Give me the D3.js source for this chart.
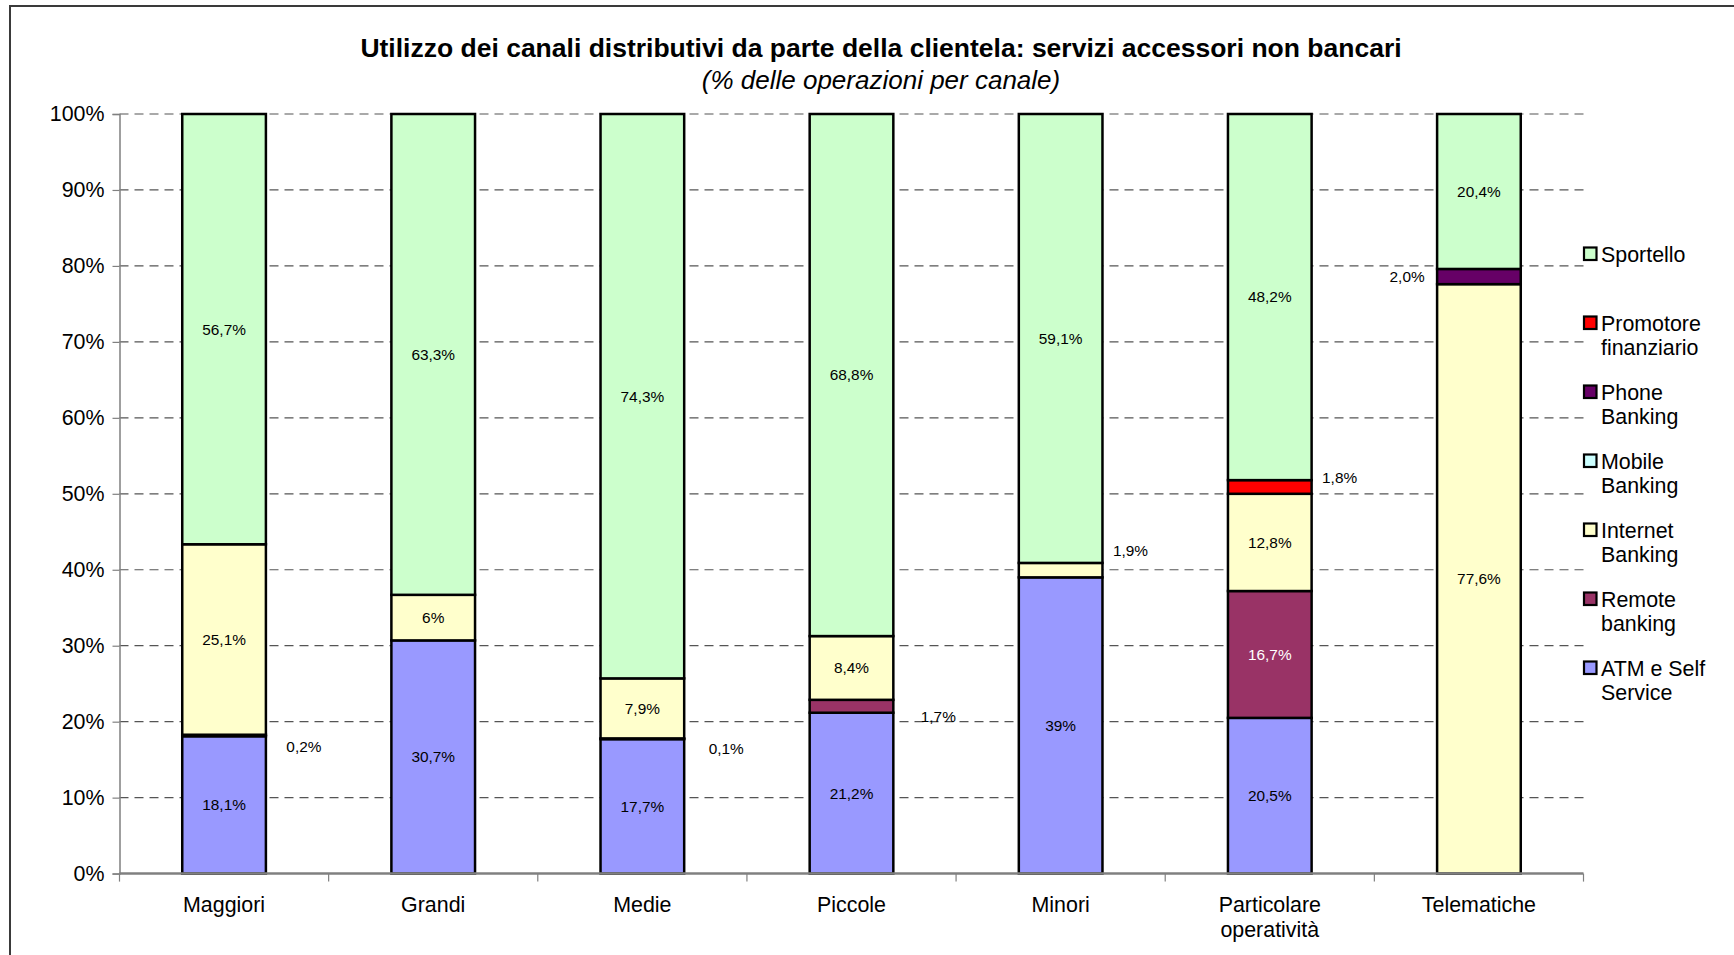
<!DOCTYPE html>
<html>
<head>
<meta charset="utf-8">
<script src="https://cdn.jsdelivr.net/npm/d3@7"></script>
<style>
  html, body { margin: 0; padding: 0; background: #fff; }
  svg { display: block; font-family: "Liberation Sans", Arial, sans-serif; }
</style>
</head>
<body>
<svg id="chart" width="1734" height="955"></svg>
<script>
// Bank groups (x categories) — second line of a label after "\n"
const categories = ["Maggiori", "Grandi", "Medie", "Piccole", "Minori", "Particolare\noperatività", "Telematiche"];

// Channels, stacked bottom to top
const seriesNames = ["ATM e Self Service", "Remote banking", "Internet Banking", "Mobile Banking", "Phone Banking", "Promotore finanziario", "Sportello"];
const legendLabels = [["ATM e Self", "Service"], ["Remote", "banking"], ["Internet", "Banking"], ["Mobile", "Banking"], ["Phone", "Banking"], ["Promotore", "finanziario"], ["Sportello"]];

// Share of operations per channel (%), one value per category
const atmSelfService   = [18.1, 30.7, 17.7, 21.2, 39.0, 20.5, 0];
const remoteBanking    = [0.2, 0, 0.1, 1.7, 0, 16.7, 0];
const internetBanking  = [25.1, 6.0, 7.9, 8.4, 1.9, 12.8, 77.6];
const mobileBanking    = [0, 0, 0, 0, 0, 0, 0];
const phoneBanking     = [0, 0, 0, 0, 0, 0, 2.0];
const promotore        = [0, 0, 0, 0, 0, 1.8, 0];
const sportello        = [56.7, 63.3, 74.3, 68.8, 59.1, 48.2, 20.4];

const yTickLabels = ["0%", "10%", "20%", "30%", "40%", "50%", "60%", "70%", "80%", "90%", "100%"];

const seriesValues = [atmSelfService, remoteBanking, internetBanking, mobileBanking, phoneBanking, promotore, sportello];
const colors = ["#9999FF", "#993366", "#FFFFCC", "#CCFFFF", "#660066", "#FF0000", "#CCFFCC"];

// Labels of thin segments are placed beside the bar
const besideLabels = [
  { cat: 0, series: 1, side: "right", dx: 38, dy: 11 },
  { cat: 2, series: 1, side: "right", dx: 42, dy: 10 },
  { cat: 3, series: 1, side: "right", dx: 45, dy: 10 },
  { cat: 4, series: 2, side: "right", dx: 28, dy: -20 },
  { cat: 5, series: 5, side: "right", dx: 28, dy: -9 },
  { cat: 6, series: 4, side: "left",  dx: -30, dy: 0 }
];

const svg = d3.select("#chart");
const margin = { left: 119.5, right: 1583.5, top: 114, bottom: 873.6 };
const baseFont = 21.4;

// Outer frame of the chart area
svg.append("rect")
  .attr("x", 10).attr("y", 6).attr("width", 1800).attr("height", 1000)
  .attr("fill", "none").attr("stroke", "#3a3a3a").attr("stroke-width", 2);

// Titles
svg.append("text").attr("x", 881).attr("y", 57).attr("text-anchor", "middle")
  .attr("font-size", 26.5).attr("font-weight", "bold").attr("fill", "#000")
  .text("Utilizzo dei canali distributivi da parte della clientela: servizi accessori non bancari");
svg.append("text").attr("x", 881).attr("y", 89).attr("text-anchor", "middle")
  .attr("font-size", 26).attr("font-style", "italic").attr("fill", "#000")
  .text("(% delle operazioni per canale)");

// Rows: one object per category, normalised to 100%
const rows = categories.map((c, i) => {
  const r = { cat: c, idx: i };
  let total = 0;
  seriesNames.forEach((s, j) => { r[s] = seriesValues[j][i]; total += seriesValues[j][i]; });
  r.total = total;
  return r;
});
const normRows = rows.map(r => {
  const o = { cat: r.cat, idx: r.idx };
  seriesNames.forEach(s => { o[s] = r[s] / r.total; });
  return o;
});
const stacked = d3.stack().keys(seriesNames)(normRows);

const x = d3.scaleBand().domain(categories).range([margin.left, margin.right])
  .paddingInner(0.6).paddingOuter(0.3);
const xEdges = d3.scaleLinear().domain([0, categories.length]).range([margin.left, margin.right]);
const y = d3.scaleLinear().domain([0, 1]).range([margin.bottom, margin.top]);

// Dashed gridlines
const grid = svg.append("g");
d3.range(1, 11).forEach(k => {
  grid.append("line")
    .attr("x1", margin.left).attr("x2", margin.right)
    .attr("y1", y(k / 10)).attr("y2", y(k / 10))
    .attr("stroke", "#555").attr("stroke-width", 1.2)
    .attr("stroke-dasharray", "9,6");
});

// Y axis
const yAxis = d3.axisLeft(y).tickValues(d3.range(0, 11).map(k => k / 10))
  .tickFormat((d, i) => yTickLabels[i]).tickSize(7).tickPadding(8);
const gy = svg.append("g").attr("transform", `translate(${margin.left},0)`).call(yAxis);
gy.select(".domain").attr("stroke", "#808080").attr("stroke-width", 1.5);
gy.selectAll(".tick line").attr("stroke", "#808080").attr("stroke-width", 1.2);
gy.selectAll(".tick text").attr("font-size", baseFont).attr("fill", "#000")
  .attr("font-family", "Liberation Sans, Arial, sans-serif");

// Stacked bars
const barLayer = svg.append("g");
stacked.forEach((layer, j) => {
  barLayer.selectAll(null).data(layer.filter(d => d[1] - d[0] > 0)).enter()
    .append("rect")
    .attr("x", d => x(d.data.cat))
    .attr("width", x.bandwidth())
    .attr("y", d => y(d[1]))
    .attr("height", d => y(d[0]) - y(d[1]))
    .attr("fill", colors[j])
    .attr("stroke", "#000").attr("stroke-width", 2.5);
});

// X axis with ticks at category boundaries
const gx = svg.append("g");
gx.append("line").attr("x1", margin.left).attr("x2", margin.right)
  .attr("y1", margin.bottom).attr("y2", margin.bottom)
  .attr("stroke", "#808080").attr("stroke-width", 2.5);
d3.range(0, categories.length + 1).forEach(k => {
  gx.append("line").attr("x1", xEdges(k)).attr("x2", xEdges(k))
    .attr("y1", margin.bottom).attr("y2", margin.bottom + 8)
    .attr("stroke", "#808080").attr("stroke-width", 1.2);
});
categories.forEach(c => {
  const lines = c.split("\n");
  const t = gx.append("text").attr("text-anchor", "middle").attr("font-size", baseFont).attr("fill", "#000");
  lines.forEach((ln, li) => {
    t.append("tspan").attr("x", x(c) + x.bandwidth() / 2)
      .attr("y", 912 + li * 25).text(ln);
  });
});

// Value labels
const fmt = (v, s) => {
  const str = (s === "Phone Banking" || !Number.isInteger(v)) ? v.toFixed(1) : String(v);
  return str.replace(".", ",") + "%";
};
const labelLayer = svg.append("g").attr("font-size", 15.4);
stacked.forEach((layer, j) => {
  layer.forEach((d, i) => {
    const v = seriesValues[j][i];
    if (!(v > 0)) return;
    const cx = x(d.data.cat) + x.bandwidth() / 2;
    const cy = (y(d[0]) + y(d[1])) / 2;
    const beside = besideLabels.find(b => b.cat === i && b.series === j);
    let lx = cx, ly = cy;
    if (beside) {
      const edge = beside.side === "right" ? x(d.data.cat) + x.bandwidth() : x(d.data.cat);
      lx = edge + beside.dx;
      ly = cy + beside.dy;
    }
    labelLayer.append("text")
      .attr("x", lx).attr("y", ly).attr("dy", "0.35em")
      .attr("text-anchor", "middle")
      .attr("fill", (!beside && seriesNames[j] === "Remote banking") ? "#fff" : "#000")
      .text(fmt(v, seriesNames[j]));
  });
});

// Legend, top entry is the top of the stack
const legend = svg.append("g");
const legendOrder = d3.range(seriesNames.length).reverse();
legendOrder.forEach((j, k) => {
  const cy = 254 + k * 69;
  legend.append("rect").attr("x", 1584).attr("y", cy - 6.5).attr("width", 12.5).attr("height", 12.5)
    .attr("fill", colors[j]).attr("stroke", "#000").attr("stroke-width", 2.2);
  const t = legend.append("text").attr("font-size", baseFont).attr("fill", "#000");
  legendLabels[j].forEach((ln, li) => {
    t.append("tspan").attr("x", 1601).attr("y", cy + 7.5 + li * 24.5).text(ln);
  });
});
</script>
</body>
</html>
